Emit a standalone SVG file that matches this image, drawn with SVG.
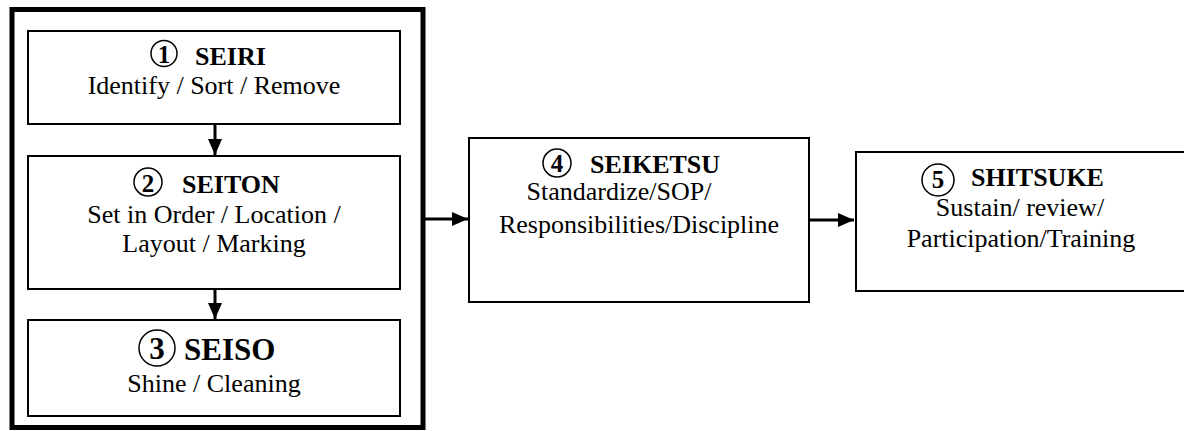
<svg xmlns="http://www.w3.org/2000/svg" width="1184" height="431" viewBox="0 0 1184 431">
  <style>
    .box { fill: #ffffff; stroke: #000000; stroke-width: 2; }
    .frame { fill: none; stroke: #000000; stroke-width: 5; }
    .ring { fill: none; stroke: #000000; stroke-width: 1.5; }
    text { font-family: 'Liberation Serif', 'Times New Roman', serif; fill: #000000; }
    .title { font-weight: bold; font-size: 26px; }
    .num { font-weight: bold; font-size: 25px; text-anchor: middle; }
    .body { font-size: 26px; text-anchor: middle; }
    .conn { stroke: #000000; stroke-width: 3; fill: none; }
  </style>
  <defs>
    <marker id="arrow" viewBox="0 0 16 14" refX="16" refY="7" markerWidth="16" markerHeight="14" markerUnits="userSpaceOnUse" orient="auto">
      <path d="M0,0 L16,7 L0,14 Z" fill="#000000"/>
    </marker>
  </defs>
  <rect x="0" y="0" width="1184" height="431" fill="#ffffff"/>

  <g id="frame">
    <rect class="frame" x="12" y="9.5" width="411" height="418"/>
  </g>

  <g id="node-seiri">
    <rect class="box" x="28" y="31" width="372" height="93"/>
    <circle class="ring" cx="164" cy="53.5" r="13"/>
    <text class="num" x="164" y="63">1</text>
    <text class="title" x="195" y="65">SEIRI</text>
    <text class="body" x="214" y="94">Identify / Sort / Remove</text>
  </g>

  <g id="node-seiton">
    <rect class="box" x="28" y="156" width="372" height="133"/>
    <circle class="ring" cx="148" cy="182" r="14"/>
    <text class="num" x="148" y="192">2</text>
    <text class="title" x="182" y="193">SEITON</text>
    <text class="body" x="214" y="223">Set in Order / Location /</text>
    <text class="body" x="214" y="252">Layout / Marking</text>
  </g>

  <g id="node-seiso">
    <rect class="box" x="28" y="320" width="372" height="96"/>
    <circle class="ring" cx="157" cy="348" r="18"/>
    <text class="num" x="157" y="359" style="font-size:31px">3</text>
    <text class="title" x="184" y="360" style="font-size:31px">SEISO</text>
    <text class="body" x="214" y="392">Shine / Cleaning</text>
  </g>

  <g id="node-seiketsu">
    <rect class="box" x="469" y="138" width="340" height="164"/>
    <circle class="ring" cx="557" cy="163" r="14"/>
    <text class="num" x="557" y="172">4</text>
    <text class="title" x="590" y="173">SEIKETSU</text>
    <text class="body" x="619" y="200">Standardize/SOP/</text>
    <text class="body" x="639" y="233">Responsibilities/Discipline</text>
  </g>

  <g id="node-shitsuke">
    <rect class="box" x="856" y="152" width="340" height="139"/>
    <circle class="ring" cx="938" cy="180" r="16"/>
    <text class="num" x="938" y="188">5</text>
    <text class="title" x="971" y="186">SHITSUKE</text>
    <text class="body" x="1020" y="216">Sustain/ review/</text>
    <text class="body" x="1021" y="247">Participation/Training</text>
  </g>

  <g id="connectors">
    <line class="conn" x1="215" y1="124" x2="215" y2="155" marker-end="url(#arrow)"/>
    <line class="conn" x1="215" y1="289" x2="215" y2="319" marker-end="url(#arrow)"/>
    <line class="conn" x1="425" y1="219" x2="468" y2="219" marker-end="url(#arrow)"/>
    <line class="conn" x1="810" y1="220" x2="854" y2="220" marker-end="url(#arrow)"/>
  </g>
</svg>
